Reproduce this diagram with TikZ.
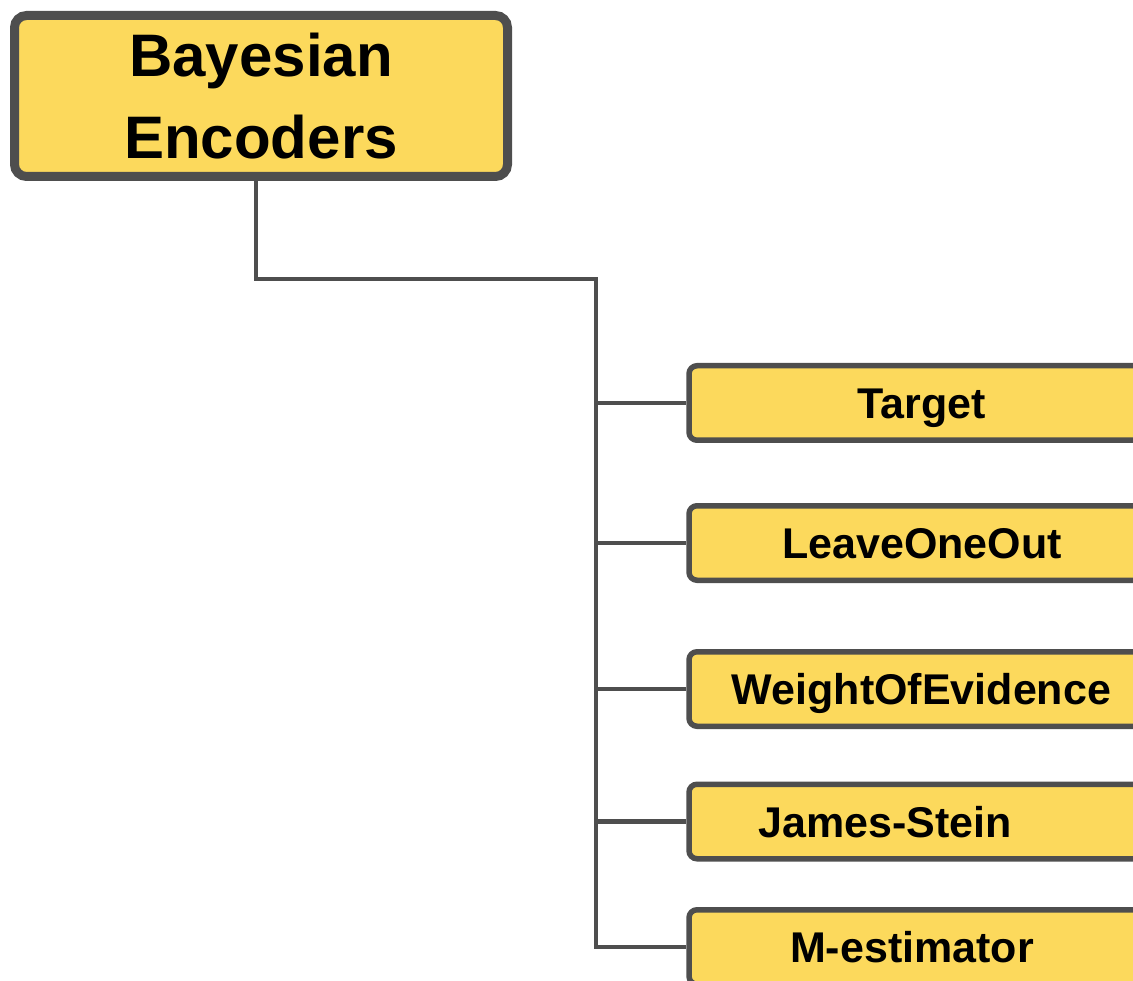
\documentclass[tikz,border=0pt]{standalone}
\usepackage{fontspec}
\setmainfont{Liberation Sans}
\usepackage{xcolor}
\definecolor{yl}{RGB}{252, 217, 92}
\definecolor{dg}{RGB}{78, 78, 78}

\begin{document}
\begin{tikzpicture}[x=1pt, y=-1pt,
        root/.style={draw=dg, fill=yl, line width=9pt, rounded corners=12pt, minimum width=493pt, minimum height=161pt, inner sep=0pt, align=center, font=\fontsize{60}{82}\selectfont\bfseries},
        leaf/.style={draw=dg, fill=yl, line width=5.5pt, rounded corners=8pt, minimum width=453pt, minimum height=74.5pt, inner sep=0pt},
        leaftext/.style={font=\fontsize{43}{50}\selectfont\bfseries, text height=31pt, text depth=0pt, inner sep=0pt},
        wire/.style={draw=dg, line width=4.5pt}]
        \useasboundingbox (0,0) rectangle (1133,981);
        \clip (0,0) rectangle (1133,981);
        \node[root] (enc) at (261,96) {Bayesian\\Encoders};
        \node[leaf, label={[leaftext, xshift=6.5pt]center:Target}] (target) at (915.5,403) {};
        \node[leaf, label={[leaftext, xshift=6.5pt]center:LeaveOneOut}] (loo) at (915.5,543) {};
        \node[leaf, label={[leaftext, xshift=6pt]center:WeightOfEvidence}] (woe) at (915.5,689) {};
        \node[leaf, label={[leaftext, xshift=-30.5pt]center:James-Stein}] (js) at (915.5,821.5) {};
        \node[leaf, label={[leaftext, xshift=-3.5pt]center:M-estimator}] (mest) at (915.5,947) {};
        \coordinate (bend) at (256,279);
        \coordinate (trunk) at (596,279);
        \draw[wire] (enc.south -| bend) -- (bend) -- (trunk) |- (mest.west);
        \foreach \n in {target, loo, woe, js}
            \draw[wire] (trunk |- \n.west) -- (\n.west);
    \end{tikzpicture}
\end{document}
